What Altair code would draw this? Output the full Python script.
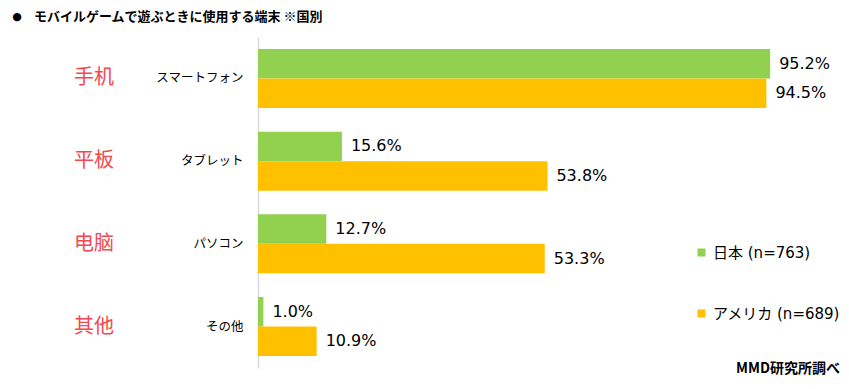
import altair as alt
import pandas as pd

devices = ["スマートフォン", "タブレット", "パソコン", "その他"]
cn_labels = ["手机", "平板", "电脑", "其他"]
countries = ["日本 (n=763)", "アメリカ (n=689)"]
japan = [95.2, 15.6, 12.7, 1.0]
usa = [94.5, 53.8, 53.3, 10.9]
colors = ["#92D050", "#FFC000"]

rows = []
for i, d in enumerate(devices):
    rows.append({"device": d, "country": countries[0], "value": japan[i]})
    rows.append({"device": d, "country": countries[1], "value": usa[i]})
df = pd.DataFrame(rows)
df["label"] = df["value"].map(lambda v: f"{v:.1f}%")

cn_df = pd.DataFrame({"device": devices, "cn": cn_labels})

ysc = alt.Scale(domain=devices, paddingInner=0.287, paddingOuter=0.145)
yoff = alt.YOffset("country:N", scale=alt.Scale(domain=countries, padding=0), sort=countries)
xsc = alt.Scale(domain=[0, 100])

base = alt.Chart(df)

bars = base.mark_bar().encode(
    x=alt.X("value:Q", scale=xsc, axis=None),
    y=alt.Y("device:N", scale=ysc, sort=devices,
            axis=alt.Axis(title=None, ticks=False, labelPadding=15, labelFontSize=12.5,
                          labelFont="Noto Sans CJK JP", labelColor="#000000",
                          domainColor="#D9D9D9", domainWidth=1.5)),
    yOffset=yoff,
    color=alt.Color("country:N", scale=alt.Scale(domain=countries, range=colors),
                    legend=alt.Legend(title=None, orient="none", legendX=436, legendY=208,
                                      symbolType="square", symbolSize=64, symbolStrokeWidth=0,
                                      labelFontSize=15, labelFont="DejaVu Sans, Noto Sans CJK JP",
                                      labelColor="#000000", labelOffset=4, rowPadding=45,
                                      labelLimit=0, padding=0)),
)

labels = base.mark_text(align="left", baseline="middle", dx=9, fontSize=16,
                        font="DejaVu Sans", color="#000000").encode(
    x=alt.X("value:Q", scale=xsc),
    y=alt.Y("device:N", scale=ysc, sort=devices),
    yOffset=yoff,
    text="label:N",
)

cn = alt.Chart(cn_df).mark_text(align="center", baseline="middle", fontSize=20,
                                font="Noto Sans CJK SC", color="#F5474F").encode(
    x=alt.value(-164),
    y=alt.Y("device:N", scale=ysc, sort=devices),
    text="cn:N",
)

bullet_df = pd.DataFrame({"t": ["●"]})
bullet = alt.Chart(bullet_df).mark_text(align="center", baseline="middle", fontSize=11,
                                        font="DejaVu Sans", color="#000000").encode(
    x=alt.value(-241), y=alt.value(-20), text="t:N")

title_df = pd.DataFrame({"t": ["モバイルゲームで遊ぶときに使用する端末 ※国別"]})
title = alt.Chart(title_df).mark_text(align="left", baseline="middle", fontSize=13,
                                      fontWeight="bold", font="Noto Sans CJK JP",
                                      color="#000000").encode(
    x=alt.value(-224), y=alt.value(-20), text="t:N")

src_df = pd.DataFrame({"t": ["MMD研究所調べ"]})
src = alt.Chart(src_df).mark_text(align="right", baseline="middle", fontSize=14,
                                  fontWeight="bold", font="Noto Sans CJK JP",
                                  color="#000000").encode(
    x=alt.value(582), y=alt.value(332), text="t:N")

chart = alt.layer(bars, labels, cn, bullet, title, src).properties(
    width=538, height=331,
    background="#FFFFFF",
    autosize=alt.AutoSizeParams(type="none"),
    padding={"left": 250, "top": 29, "right": 45, "bottom": 13},
).configure_view(stroke=None)

chart.save("out.html", embed_options={"renderer": "svg", "actions": False})
